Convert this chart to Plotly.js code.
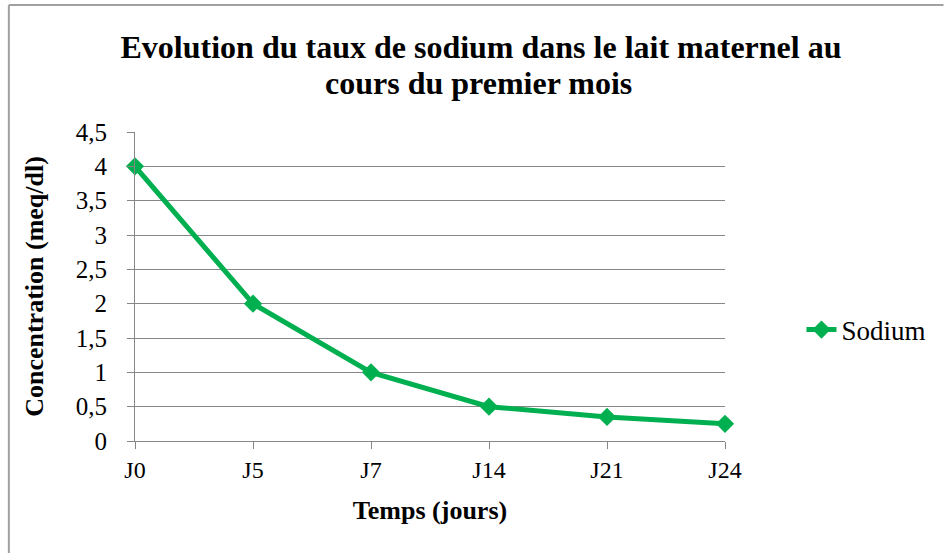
<!DOCTYPE html>
<html>
<head>
<meta charset="utf-8">
<script src="https://cdn.plot.ly/plotly-3.0.1.min.js"></script>
<style>
html,body{margin:0;padding:0;background:#fff;}
#chart{width:944px;height:553px;}
</style>
</head>
<body>
<div id="chart"></div>
<script>
const categories = ["J0", "J5", "J7", "J14", "J21", "J24"];
const sodium = [4, 2, 1, 0.5, 0.35, 0.25];
const seriesName = "Sodium";
const yTicks = [0, 0.5, 1, 1.5, 2, 2.5, 3, 3.5, 4, 4.5];
const titleLines = ["Evolution du taux de sodium dans le lait maternel au", "cours du premier mois"];
const xTitle = "Temps (jours)";
const yTitle = "Concentration (meq/dl)";

const serif = "Liberation Serif";
const gray = "#868686";

// plot area geometry (pixels)
const L = 135, R = 729, T = 132, B = 441, W = 944, H = 553;
const px = x => (x - L) / (R - L);
const py = y => (B - y) / (B - T);

const trace = {
  x: categories.map((c, i) => i),
  y: sodium,
  name: seriesName,
  type: "scatter",
  mode: "lines+markers",
  line: {color: "#00B050", width: 5},
  marker: {symbol: "diamond", size: 14, color: "#00B050"},
  cliponaxis: false
};

const layout = {
  width: W, height: H,
  margin: {l: L, r: W - R, t: T, b: H - B, pad: 0},
  paper_bgcolor: "#fff",
  plot_bgcolor: "#fff",
  separators: ", ",
  font: {family: serif, color: "#000", size: 24},
  title: {
    text: "<b>" + titleLines[0] + "</b>",
    font: {family: serif, size: 32, color: "#000"},
    xref: "container", x: 481 / W, xanchor: "center",
    yref: "container", y: 1 - 47 / H, yanchor: "middle"
  },
  annotations: [{
    text: "<b>" + titleLines[1] + "</b>",
    font: {family: serif, size: 32, color: "#000"},
    xref: "paper", yref: "paper", x: px(481), y: py(83),
    xanchor: "center", yanchor: "middle", showarrow: false
  }],
  xaxis: {
    range: [0, categories.length - 1],
    tickmode: "array",
    tickvals: categories.map((c, i) => i),
    ticktext: categories,
    showgrid: false,
    zeroline: false,
    showline: true, linecolor: gray, linewidth: 1,
    ticks: "outside", ticklen: 7, tickcolor: gray, tickwidth: 1,
    tickfont: {family: serif, size: 24, color: "#000"},
    title: {text: "<b>" + xTitle + "</b>", font: {family: serif, size: 26, color: "#000"}, standoff: 19}
  },
  yaxis: {
    range: [0, 4.5],
    tickmode: "array",
    tickvals: yTicks,
    showgrid: true, gridcolor: gray, gridwidth: 1,
    zeroline: false,
    showline: true, linecolor: gray, linewidth: 1,
    ticks: "outside", ticklen: 7, tickcolor: gray, tickwidth: 1,
    ticklabelstandoff: 15,
    tickfont: {family: serif, size: 25, color: "#000"},
    title: {text: "<b>" + yTitle + "</b>", font: {family: serif, size: 26, color: "#000"}, standoff: 24}
  },
  showlegend: true,
  legend: {
    x: px(806), xanchor: "left",
    y: py(330), yanchor: "middle",
    font: {family: serif, size: 27, color: "#000"},
    bgcolor: "rgba(0,0,0,0)"
  },
  shapes: [
    {type: "line", xref: "paper", yref: "paper",
     x0: px(8), y0: py(H + 5), x1: px(8), y1: py(5),
     line: {color: "#a0a0a0", width: 2}},
    {type: "line", xref: "paper", yref: "paper",
     x0: px(8), y0: py(5), x1: px(W + 5), y1: py(5),
     line: {color: "#a0a0a0", width: 2}}
  ]
};

Plotly.newPlot("chart", [trace], layout, {displayModeBar: false, staticPlot: true});
</script>
</body>
</html>
